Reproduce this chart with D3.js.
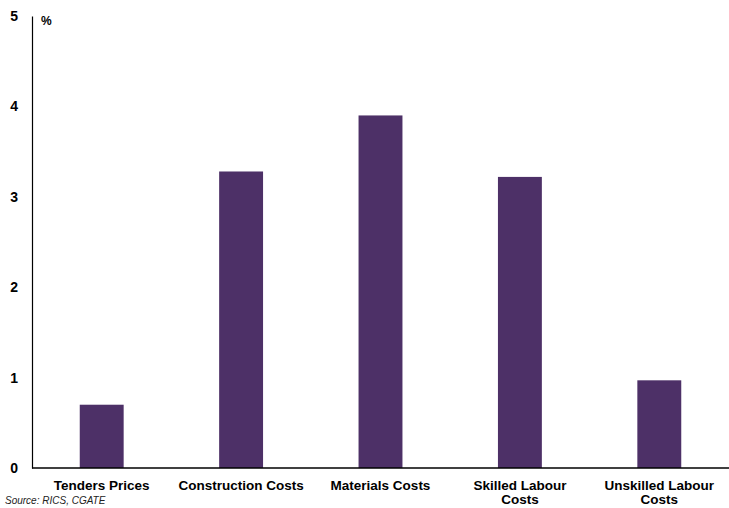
<!DOCTYPE html>
<html>
<head>
<meta charset="utf-8">
<script src="https://cdn.jsdelivr.net/npm/d3@7"></script>
<style>
body { margin: 0; background: #fff; }
text { font-family: "Liberation Sans", Arial, sans-serif; }
</style>
</head>
<body>
<div id="chart"></div>
<script>
const categories = ["Tenders Prices", "Construction Costs", "Materials Costs", "Skilled Labour Costs", "Unskilled Labour Costs"];
const labelLines = [["Tenders Prices"], ["Construction Costs"], ["Materials Costs"], ["Skilled Labour", "Costs"], ["Unskilled Labour", "Costs"]];
const values = [0.7, 3.28, 3.9, 3.22, 0.97];
const yTicks = [0, 1, 2, 3, 4, 5];

const totalWidth = 729;
const totalHeight = 508;
const margin = { left: 32, right: 0, top: 16, bottom: 40 };
const plotW = totalWidth - margin.left - margin.right;
const plotH = totalHeight - margin.top - margin.bottom;

const svg = d3.select("#chart").append("svg")
	.attr("width", totalWidth)
	.attr("height", totalHeight);

const g = svg.append("g").attr("transform", "translate(" + margin.left + "," + margin.top + ")");

const x = d3.scaleBand().domain(categories).range([0, plotW]).padding(0);
const y = d3.scaleLinear().domain([0, 5]).range([plotH, 0]);
const barFrac = 0.315;

g.selectAll("rect.bar")
	.data(values)
	.enter()
	.append("rect")
	.attr("class", "bar")
	.attr("x", (d, i) => x(categories[i]) + x.bandwidth() * (1 - barFrac) / 2)
	.attr("width", x.bandwidth() * barFrac)
	.attr("y", (d) => y(d))
	.attr("height", (d) => plotH - y(d))
	.attr("fill", "#4d3067");

// y axis
const yAxis = g.append("g").call(d3.axisLeft(y).tickValues(yTicks).tickSize(0).tickPadding(14).tickFormat(d3.format("d")));
yAxis.select(".domain").attr("stroke", "#000").attr("stroke-width", 1.2);
yAxis.selectAll("text")
	.attr("font-family", "'Liberation Sans', Arial, sans-serif")
	.attr("font-size", 14)
	.attr("font-weight", "bold")
	.attr("fill", "#000");

// x axis line
g.append("line")
	.attr("x1", 0).attr("x2", plotW)
	.attr("y1", plotH).attr("y2", plotH)
	.attr("stroke", "#000").attr("stroke-width", 1.5);

// x labels
labelLines.forEach((lines, i) => {
	const t = g.append("text")
		.attr("x", x(categories[i]) + x.bandwidth() / 2)
		.attr("y", plotH + 22)
		.attr("text-anchor", "middle")
		.attr("font-size", 13.5)
		.attr("font-weight", "bold")
		.attr("fill", "#000");
	lines.forEach((l, j) => {
		t.append("tspan")
			.attr("x", x(categories[i]) + x.bandwidth() / 2)
			.attr("dy", j === 0 ? 0 : 14)
			.text(l);
	});
});

svg.append("text")
	.attr("x", 41).attr("y", 25)
	.attr("font-size", 12)
	.attr("font-weight", "bold")
	.text("%");

svg.append("text")
	.attr("x", 5).attr("y", 504)
	.attr("font-size", 10)
	.attr("font-style", "italic")
	.attr("fill", "#222")
	.text("Source: RICS, CGATE");
</script>
</body>
</html>
